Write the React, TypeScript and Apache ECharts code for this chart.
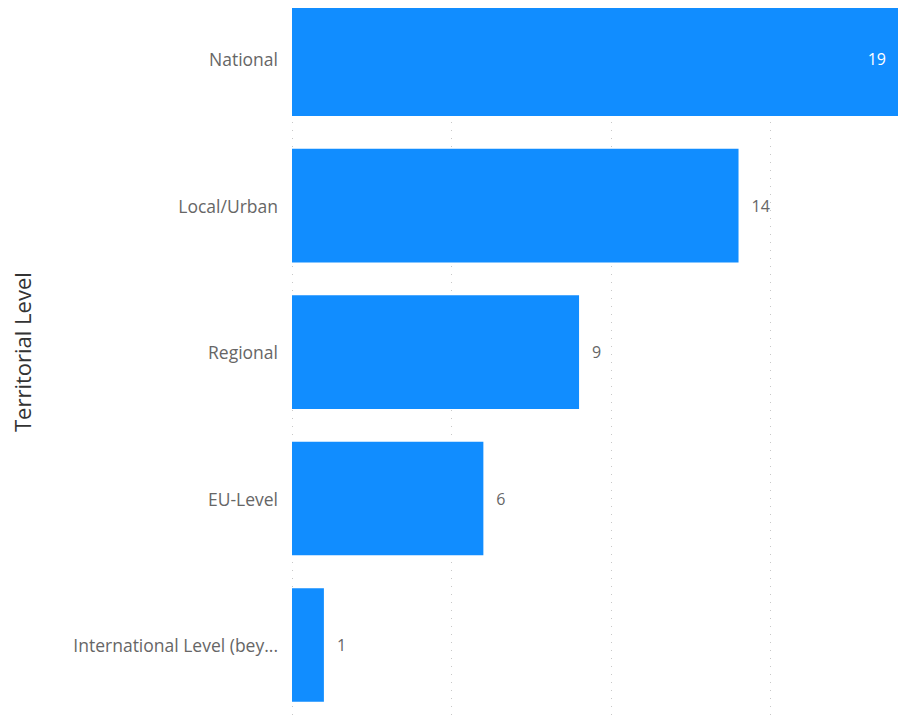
import React, { useEffect, useRef } from "react";
import * as echarts from "echarts";

const categories = ["National", "Local/Urban", "Regional", "EU-Level", "International Level (bey..."];
const counts = [19, 14, 9, 6, 1];
const axisTitle = "Territorial Level";

export default function App() {
  const ref = useRef<HTMLDivElement>(null);
  useEffect(() => {
    if (!ref.current) return;
    const chart = echarts.init(ref.current, undefined, { renderer: "svg" });
    const font = "'Segoe UI', 'Open Sans', sans-serif";
    chart.setOption({
      animation: false,
      grid: { left: 284, right: 15, top: 0, bottom: 0.8, containLabel: false, outerBoundsMode: "none" },
      xAxis: {
        type: "value",
        min: 0,
        max: 19,
        interval: 5,
        axisLabel: { show: false },
        axisLine: { show: false },
        axisTick: { show: false },
        splitLine: {
          show: true,
          showMaxLine: false,
          lineStyle: { color: "#c8c8c8", type: [1, 7], width: 1 },
        },
      },
      yAxis: {
        type: "category",
        inverse: true,
        data: categories,
        axisLine: { show: false },
        axisTick: { show: false },
        axisLabel: {
          color: "#666666",
          fontSize: 17.5,
          fontFamily: font,
          margin: 14,
          padding: [3, 0, 0, 0],
        },
        name: axisTitle,
        nameLocation: "middle",
        nameGap: 259,
        nameTextStyle: { color: "#333333", fontSize: 22, fontFamily: font },
      },
      series: [
        {
          type: "bar",
          data: counts.map((v, i) => ({
            value: v,
            label:
              i === 0
                ? { position: "insideRight", color: "#ffffff", distance: 12 }
                : { position: "right", color: "#666666", distance: 13 },
          })),
          barCategoryGap: "22.4%",
          itemStyle: { color: "#118DFF" },
          label: { show: true, fontSize: 16, fontFamily: font, padding: [2, 0, 0, 0] },
        },
      ],
    });
    return () => chart.dispose();
  }, []);
  return (
    <div style={{ position: "relative", width: "100%", height: 711, overflow: "hidden" }}>
      <div ref={ref} style={{ position: "absolute", left: 0, top: -22, width: "100%", height: 733 }} />
    </div>
  );
}
